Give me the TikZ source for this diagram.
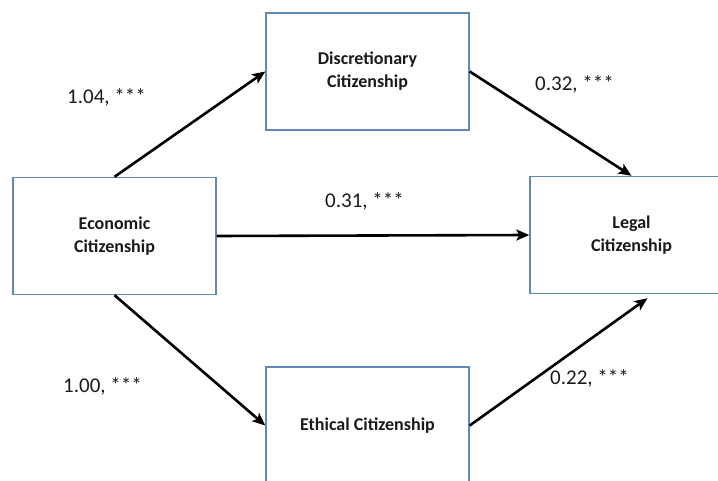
\documentclass[tikz,border=0pt]{standalone}
\usepackage{fontspec}
\setmainfont{Carlito}
\usetikzlibrary{arrows.meta}
\definecolor{boxblue}{RGB}{96,136,186}
\definecolor{txt}{RGB}{26,26,26}
\tikzset{
  citbox/.style={draw=boxblue, line width=1.4pt, fill=white, minimum width=203pt, minimum height=117pt,
    inner sep=0pt, align=center, text=txt, font=\bfseries\fontsize{18}{23}\selectfont},
  path/.style={draw=black, line width=2.6pt, -{Stealth[length=13pt,width=11pt,inset=3pt]}},
  coef/.style={anchor=west, inner sep=0pt, text=txt, font=\fontsize{21}{25}\selectfont}
}
\begin{document}
\begin{tikzpicture}[x=1pt,y=-1pt]
\useasboundingbox (0,0) rectangle (718,481);
\clip (0,0) rectangle (718,481);
\fill[white] (0,0) rectangle (718,481);
\node[citbox] (E) at (114.5,236) {Economic\\Citizenship};
\node[citbox] (D) at (367.5,71.5) {Discretionary\\Citizenship};
\node[citbox] (L) at (631.5,235) {Legal\\Citizenship};
\node[citbox] (T) at (367.5,425.5) {Ethical Citizenship};
\draw[path] (E.north) -- (D.west);
\draw[path] (D.east) -- (L.north);
\draw[path] (E.east) -- (L.west);
\draw[path] (E.south) -- (T.west);
\draw[path] (T.east) -- ([xshift=16pt,yshift=-4pt]L.south);
\node[coef] (c1) at (67,97) {1.04, ***};
\node[coef] (c2) at (535,84) {0.32, ***};
\node[coef] (c3) at (325,201) {0.31, ***};
\node[coef] (c4) at (63,386) {1.00, ***};
\node[coef] (c5) at (550,378) {0.22, ***};
\end{tikzpicture}
\end{document}
